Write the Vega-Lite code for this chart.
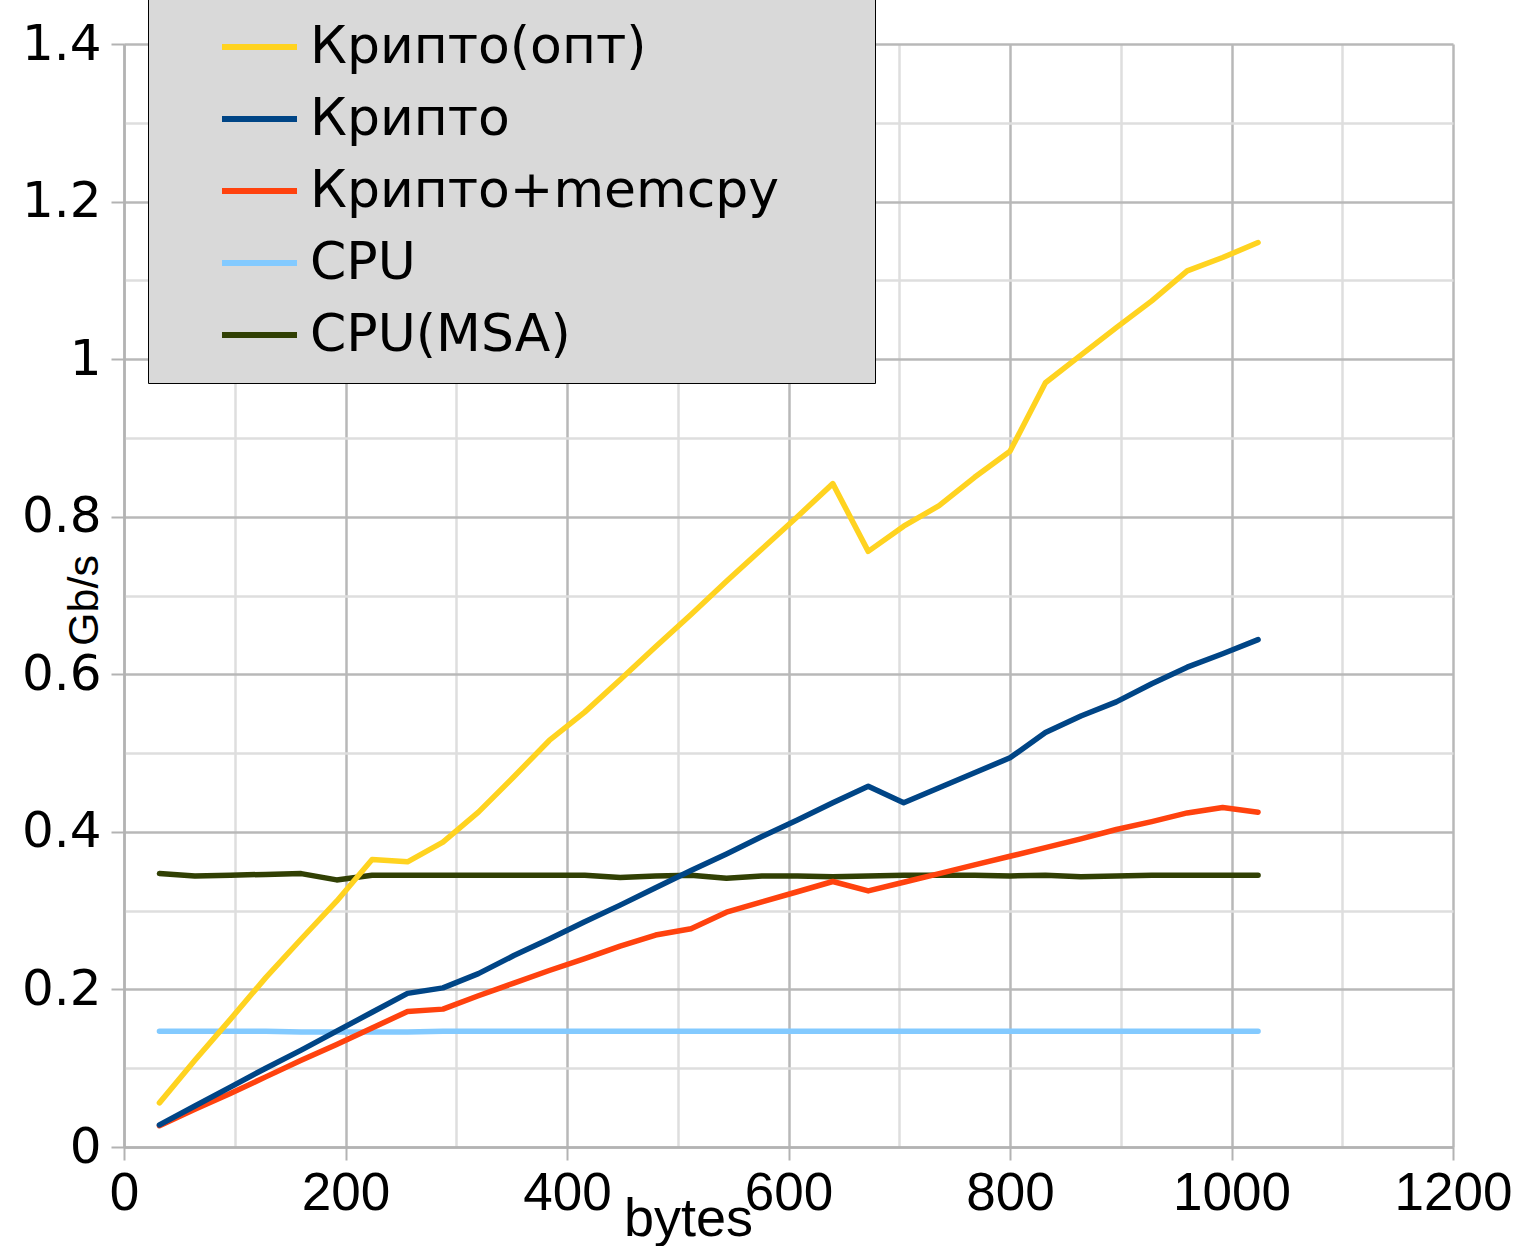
{
"$schema": "https://vega.github.io/schema/vega-lite/v6.json",
"width": 1329,
"height": 1103,
"autosize": {"type": "none"},
"padding": {"left": 124, "top": 44, "right": 75, "bottom": 99},
"background": "white",
"config": {"view": {"stroke": null}},
"data": {"values": [
{"bytes":32,"series":"CPU(MSA)","v":0.347},{"bytes":64,"series":"CPU(MSA)","v":0.344},{"bytes":96,"series":"CPU(MSA)","v":0.345},{"bytes":128,"series":"CPU(MSA)","v":0.346},{"bytes":160,"series":"CPU(MSA)","v":0.347},{"bytes":192,"series":"CPU(MSA)","v":0.339},{"bytes":224,"series":"CPU(MSA)","v":0.345},{"bytes":256,"series":"CPU(MSA)","v":0.345},{"bytes":288,"series":"CPU(MSA)","v":0.345},{"bytes":320,"series":"CPU(MSA)","v":0.345},{"bytes":352,"series":"CPU(MSA)","v":0.345},{"bytes":384,"series":"CPU(MSA)","v":0.345},{"bytes":416,"series":"CPU(MSA)","v":0.345},{"bytes":448,"series":"CPU(MSA)","v":0.342},{"bytes":480,"series":"CPU(MSA)","v":0.344},{"bytes":512,"series":"CPU(MSA)","v":0.345},{"bytes":544,"series":"CPU(MSA)","v":0.341},{"bytes":576,"series":"CPU(MSA)","v":0.344},{"bytes":608,"series":"CPU(MSA)","v":0.344},{"bytes":640,"series":"CPU(MSA)","v":0.343},{"bytes":672,"series":"CPU(MSA)","v":0.344},{"bytes":704,"series":"CPU(MSA)","v":0.345},{"bytes":736,"series":"CPU(MSA)","v":0.345},{"bytes":768,"series":"CPU(MSA)","v":0.345},{"bytes":800,"series":"CPU(MSA)","v":0.344},{"bytes":832,"series":"CPU(MSA)","v":0.345},{"bytes":864,"series":"CPU(MSA)","v":0.343},{"bytes":896,"series":"CPU(MSA)","v":0.344},{"bytes":928,"series":"CPU(MSA)","v":0.345},{"bytes":960,"series":"CPU(MSA)","v":0.345},{"bytes":992,"series":"CPU(MSA)","v":0.345},{"bytes":1024,"series":"CPU(MSA)","v":0.345},
{"bytes":32,"series":"CPU","v":0.147},{"bytes":64,"series":"CPU","v":0.147},{"bytes":96,"series":"CPU","v":0.147},{"bytes":128,"series":"CPU","v":0.147},{"bytes":160,"series":"CPU","v":0.146},{"bytes":192,"series":"CPU","v":0.146},{"bytes":224,"series":"CPU","v":0.146},{"bytes":256,"series":"CPU","v":0.146},{"bytes":288,"series":"CPU","v":0.147},{"bytes":320,"series":"CPU","v":0.147},{"bytes":352,"series":"CPU","v":0.147},{"bytes":384,"series":"CPU","v":0.147},{"bytes":416,"series":"CPU","v":0.147},{"bytes":448,"series":"CPU","v":0.147},{"bytes":480,"series":"CPU","v":0.147},{"bytes":512,"series":"CPU","v":0.147},{"bytes":544,"series":"CPU","v":0.147},{"bytes":576,"series":"CPU","v":0.147},{"bytes":608,"series":"CPU","v":0.147},{"bytes":640,"series":"CPU","v":0.147},{"bytes":672,"series":"CPU","v":0.147},{"bytes":704,"series":"CPU","v":0.147},{"bytes":736,"series":"CPU","v":0.147},{"bytes":768,"series":"CPU","v":0.147},{"bytes":800,"series":"CPU","v":0.147},{"bytes":832,"series":"CPU","v":0.147},{"bytes":864,"series":"CPU","v":0.147},{"bytes":896,"series":"CPU","v":0.147},{"bytes":928,"series":"CPU","v":0.147},{"bytes":960,"series":"CPU","v":0.147},{"bytes":992,"series":"CPU","v":0.147},{"bytes":1024,"series":"CPU","v":0.147},
{"bytes":32,"series":"Крипто+memcpy","v":0.027},{"bytes":64,"series":"Крипто+memcpy","v":0.048},{"bytes":96,"series":"Крипто+memcpy","v":0.068},{"bytes":128,"series":"Крипто+memcpy","v":0.089},{"bytes":160,"series":"Крипто+memcpy","v":0.110},{"bytes":192,"series":"Крипто+memcpy","v":0.130},{"bytes":224,"series":"Крипто+memcpy","v":0.151},{"bytes":256,"series":"Крипто+memcpy","v":0.172},{"bytes":288,"series":"Крипто+memcpy","v":0.175},{"bytes":320,"series":"Крипто+memcpy","v":0.192},{"bytes":352,"series":"Крипто+memcpy","v":0.208},{"bytes":384,"series":"Крипто+memcpy","v":0.224},{"bytes":416,"series":"Крипто+memcpy","v":0.239},{"bytes":448,"series":"Крипто+memcpy","v":0.255},{"bytes":480,"series":"Крипто+memcpy","v":0.269},{"bytes":512,"series":"Крипто+memcpy","v":0.277},{"bytes":544,"series":"Крипто+memcpy","v":0.298},{"bytes":576,"series":"Крипто+memcpy","v":0.311},{"bytes":608,"series":"Крипто+memcpy","v":0.324},{"bytes":640,"series":"Крипто+memcpy","v":0.337},{"bytes":672,"series":"Крипто+memcpy","v":0.325},{"bytes":704,"series":"Крипто+memcpy","v":0.336},{"bytes":736,"series":"Крипто+memcpy","v":0.347},{"bytes":768,"series":"Крипто+memcpy","v":0.358},{"bytes":800,"series":"Крипто+memcpy","v":0.369},{"bytes":832,"series":"Крипто+memcpy","v":0.380},{"bytes":864,"series":"Крипто+memcpy","v":0.391},{"bytes":896,"series":"Крипто+memcpy","v":0.403},{"bytes":928,"series":"Крипто+memcpy","v":0.413},{"bytes":960,"series":"Крипто+memcpy","v":0.424},{"bytes":992,"series":"Крипто+memcpy","v":0.431},{"bytes":1024,"series":"Крипто+memcpy","v":0.425},
{"bytes":32,"series":"Крипто","v":0.028},{"bytes":64,"series":"Крипто","v":0.052},{"bytes":96,"series":"Крипто","v":0.076},{"bytes":128,"series":"Крипто","v":0.100},{"bytes":160,"series":"Крипто","v":0.123},{"bytes":192,"series":"Крипто","v":0.147},{"bytes":224,"series":"Крипто","v":0.171},{"bytes":256,"series":"Крипто","v":0.195},{"bytes":288,"series":"Крипто","v":0.202},{"bytes":320,"series":"Крипто","v":0.220},{"bytes":352,"series":"Крипто","v":0.243},{"bytes":384,"series":"Крипто","v":0.264},{"bytes":416,"series":"Крипто","v":0.286},{"bytes":448,"series":"Крипто","v":0.307},{"bytes":480,"series":"Крипто","v":0.329},{"bytes":512,"series":"Крипто","v":0.351},{"bytes":544,"series":"Крипто","v":0.372},{"bytes":576,"series":"Крипто","v":0.394},{"bytes":608,"series":"Крипто","v":0.415},{"bytes":640,"series":"Крипто","v":0.437},{"bytes":672,"series":"Крипто","v":0.458},{"bytes":704,"series":"Крипто","v":0.437},{"bytes":736,"series":"Крипто","v":0.456},{"bytes":768,"series":"Крипто","v":0.475},{"bytes":800,"series":"Крипто","v":0.494},{"bytes":832,"series":"Крипто","v":0.526},{"bytes":864,"series":"Крипто","v":0.547},{"bytes":896,"series":"Крипто","v":0.565},{"bytes":928,"series":"Крипто","v":0.588},{"bytes":960,"series":"Крипто","v":0.609},{"bytes":992,"series":"Крипто","v":0.626},{"bytes":1024,"series":"Крипто","v":0.644},
{"bytes":32,"series":"Крипто(опт)","v":0.056},{"bytes":64,"series":"Крипто(опт)","v":0.110},{"bytes":96,"series":"Крипто(опт)","v":0.162},{"bytes":128,"series":"Крипто(опт)","v":0.215},{"bytes":160,"series":"Крипто(опт)","v":0.264},{"bytes":192,"series":"Крипто(опт)","v":0.312},{"bytes":224,"series":"Крипто(опт)","v":0.365},{"bytes":256,"series":"Крипто(опт)","v":0.362},{"bytes":288,"series":"Крипто(опт)","v":0.387},{"bytes":320,"series":"Крипто(опт)","v":0.425},{"bytes":352,"series":"Крипто(опт)","v":0.470},{"bytes":384,"series":"Крипто(опт)","v":0.516},{"bytes":416,"series":"Крипто(опт)","v":0.552},{"bytes":448,"series":"Крипто(опт)","v":0.593},{"bytes":480,"series":"Крипто(опт)","v":0.635},{"bytes":512,"series":"Крипто(опт)","v":0.676},{"bytes":544,"series":"Крипто(опт)","v":0.718},{"bytes":576,"series":"Крипто(опт)","v":0.759},{"bytes":608,"series":"Крипто(опт)","v":0.800},{"bytes":640,"series":"Крипто(опт)","v":0.842},{"bytes":672,"series":"Крипто(опт)","v":0.756},{"bytes":704,"series":"Крипто(опт)","v":0.788},{"bytes":736,"series":"Крипто(опт)","v":0.814},{"bytes":768,"series":"Крипто(опт)","v":0.850},{"bytes":800,"series":"Крипто(опт)","v":0.883},{"bytes":832,"series":"Крипто(опт)","v":0.970},{"bytes":864,"series":"Крипто(опт)","v":1.005},{"bytes":896,"series":"Крипто(опт)","v":1.040},{"bytes":928,"series":"Крипто(опт)","v":1.074},{"bytes":960,"series":"Крипто(опт)","v":1.112},{"bytes":992,"series":"Крипто(опт)","v":1.129},{"bytes":1024,"series":"Крипто(опт)","v":1.148}
]},
"mark": {"type": "line", "strokeWidth": 5.5, "strokeJoin": "round", "strokeCap": "round"},
"encoding": {
  "x": {"field": "bytes", "type": "quantitative",
    "scale": {"domain": [0, 1200], "nice": false, "zero": false},
    "axis": {
      "title": "bytes", "titleFont": "Liberation Sans", "titleFontSize": 54, "titleFontWeight": "normal", "titleColor": "#000000",
      "titleX": 564, "titleY": 88, "titleBaseline": "alphabetic", "titleAlign": "center",
      "values": [0,100,200,300,400,500,600,700,800,900,1000,1100,1200],
      "labelExpr": "datum.value % 200 == 0 ? '' + datum.value : ''",
      "labelFont": "Liberation Sans", "labelFontSize": 53, "labelColor": "#000000", "labelPadding": 7, "labelFlush": false, "labelOverlap": false,
      "tickSize": 13, "tickWidth": 2, "tickColor": "#b3b3b3",
      "tickOpacity": {"condition": {"test": "datum.value % 200 != 0", "value": 0}, "value": 1},
      "domainColor": "#b3b3b3", "domainWidth": 2.5,
      "grid": true,
      "gridColor": {"condition": {"test": "datum.value % 200 != 0", "value": "#dedede"}, "value": "#b8b8b8"},
      "gridWidth": 2.5
    }},
  "y": {"field": "v", "type": "quantitative",
    "scale": {"domain": [0, 1.4], "nice": false, "zero": false},
    "axis": {
      "title": "Gb/s", "titleFont": "Liberation Sans", "titleFontSize": 43, "titleFontWeight": "normal", "titleColor": "#000000",
      "titleX": -27, "titleY": 556, "titleAngle": -90, "titleBaseline": "alphabetic", "titleAlign": "center",
      "values": [0,0.1,0.2,0.3,0.4,0.5,0.6,0.7,0.8,0.9,1,1.1,1.2,1.3,1.4],
      "labelExpr": "round(datum.value*10) % 2 == 1 ? '' : '' + round(datum.value*10)/10",
      "labelFont": "DejaVu Sans", "labelFontSize": 50, "labelColor": "#000000", "labelPadding": 10, "labelFlush": false, "labelOverlap": false,
      "tickSize": 13, "tickWidth": 2, "tickColor": "#b3b3b3",
      "tickOpacity": {"condition": {"test": "round(datum.value*10) % 2 == 1", "value": 0}, "value": 1},
      "domainColor": "#b3b3b3", "domainWidth": 2.5,
      "grid": true,
      "gridColor": {"condition": {"test": "round(datum.value*10) % 2 == 1", "value": "#dedede"}, "value": "#b8b8b8"},
      "gridWidth": 2.5
    }},
  "color": {"field": "series", "type": "nominal",
    "scale": {"domain": ["Крипто(опт)", "Крипто", "Крипто+memcpy", "CPU", "CPU(MSA)"],
              "range": ["#ffd320", "#004586", "#ff420e", "#83caff", "#314004"]},
    "legend": {
      "title": " ", "titleOrient": "right", "titlePadding": 78, "titleFontSize": 1,
      "orient": "none", "legendX": 24, "legendY": -45,
      "padding": 18, "fillColor": "#d9d9d9", "strokeColor": "#000000",
      "symbolType": "stroke", "symbolSize": 5625, "symbolStrokeWidth": 6,
      "clipHeight": 60, "rowPadding": 12, "symbolOffset": 53, "labelOffset": 10,
      "labelFont": "DejaVu Sans", "labelFontSize": 52, "labelColor": "#000000", "labelLimit": 1000
    }}
}
}
